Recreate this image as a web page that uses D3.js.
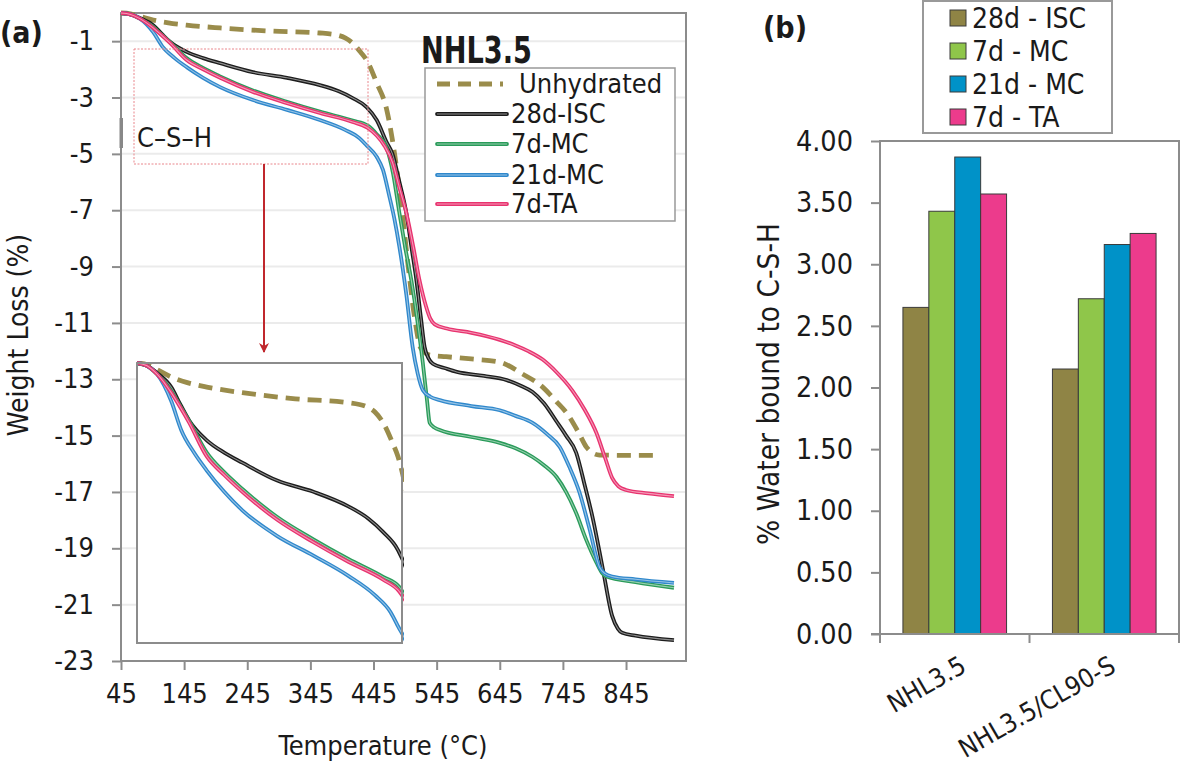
<!DOCTYPE html>
<html><head><meta charset="utf-8">
<script src="https://cdn.jsdelivr.net/npm/d3@7"></script>
<style>
body{margin:0;background:#fff;}
text{font-family:"DejaVu Sans Condensed","DejaVu Sans",sans-serif;font-stretch:condensed;fill:#1a1a1a;}
</style></head>
<body><svg id="c" width="1181" height="770"></svg>
<script>
// ---------- Panel (a) data: TGA curves (Temperature °C, Weight loss %) ----------
const unhydrated = [[45,0],[60,-0.03],[75,-0.12],[96,-0.25],[120,-0.35],[149,-0.43],[202,-0.53],[281,-0.64],[360,-0.71],[387,-0.78],[400,-0.88],[412,-1.07],[425,-1.4],[434,-1.67],[450,-2.48],[466,-3.44],[479,-5.1],[490,-7.0],[500,-9.0],[510,-10.8],[520,-11.9],[534,-12.14],[560,-12.2],[600,-12.28],[645,-12.39],[680,-12.8],[713,-13.28],[735,-13.8],[751,-14.2],[770,-14.9],[782,-15.4],[795,-15.65],[803,-15.69],[850,-15.7],[900,-15.7]];
const isc28 = [[45,0],[60,-0.05],[75,-0.18],[96,-0.43],[110,-0.75],[123,-1.03],[149,-1.38],[175,-1.6],[202,-1.78],[254,-2.1],[308,-2.3],[360,-2.56],[390,-2.78],[412,-3.02],[434,-3.34],[450,-3.8],[466,-4.6],[475,-5.0],[486,-6.0],[497,-7.1],[505,-8.3],[513,-9.5],[520,-10.8],[526,-11.86],[532,-12.25],[539,-12.45],[560,-12.62],[577,-12.74],[620,-12.88],[656,-13.03],[680,-13.25],[697,-13.45],[715,-13.85],[735,-14.5],[750,-15.0],[766,-15.6],[780,-16.8],[792,-17.9],[808,-19.7],[823,-21.4],[832,-21.85],[839,-22.0],[860,-22.1],[921,-22.26]];
const mc7 = [[45,0],[60,-0.05],[75,-0.2],[96,-0.5],[110,-0.78],[123,-1.04],[149,-1.6],[175,-1.95],[202,-2.25],[254,-2.75],[308,-3.15],[360,-3.5],[412,-3.82],[436,-4.0],[450,-4.3],[466,-4.8],[476,-5.7],[486,-7.1],[495,-8.3],[505,-9.5],[515,-11.0],[523,-12.4],[530,-13.8],[534,-14.55],[542,-14.72],[550,-14.8],[600,-15.05],[645,-15.26],[670,-15.45],[697,-15.76],[715,-16.05],[735,-16.47],[750,-17.0],[766,-17.75],[782,-18.7],[798,-19.5],[808,-19.9],[814,-20.0],[860,-20.2],[921,-20.4]];
const mc21 = [[45,0],[60,-0.05],[75,-0.2],[96,-0.68],[111,-1.2],[130,-1.6],[149,-1.92],[175,-2.3],[202,-2.63],[254,-3.09],[308,-3.44],[360,-3.8],[400,-4.15],[423,-4.45],[434,-4.7],[450,-5.1],[460,-5.57],[470,-6.5],[478,-7.3],[486,-8.3],[497,-10.0],[507,-11.86],[515,-12.8],[523,-13.38],[535,-13.62],[550,-13.74],[600,-13.95],[645,-14.1],[670,-14.3],[697,-14.55],[720,-14.95],[740,-15.4],[755,-16.1],[771,-17.0],[787,-18.3],[803,-19.67],[812,-19.9],[823,-20.0],[860,-20.1],[921,-20.23]];
const ta7 = [[45,0],[60,-0.05],[75,-0.2],[96,-0.53],[110,-0.8],[123,-1.07],[149,-1.67],[175,-2.0],[202,-2.3],[254,-2.8],[308,-3.2],[360,-3.55],[412,-3.87],[436,-4.08],[450,-4.35],[462,-4.7],[475,-5.3],[486,-6.2],[497,-7.1],[508,-8.3],[518,-9.5],[528,-10.4],[535,-10.85],[542,-11.05],[561,-11.2],[600,-11.35],[645,-11.6],[670,-11.8],[690,-12.0],[713,-12.3],[735,-12.75],[760,-13.4],[780,-14.1],[798,-14.9],[812,-15.8],[823,-16.5],[833,-16.8],[845,-16.93],[880,-17.05],[921,-17.15]];
const seriesNamesA = ["Unhydrated","28d-ISC","7d-MC","21d-MC","7d-TA"];
const seriesColorsA = ["#9a8c4b","#1c1c1c","#2a9b5a","#2f88cc","#e8336f"];
const xTicksA = [45,145,245,345,445,545,645,745,845];
const yTicksA = [-1,-3,-5,-7,-9,-11,-13,-15,-17,-19,-21,-23];

// ---------- Panel (b) data ----------
const categoriesB = ["NHL3.5","NHL3.5/CL90-S"];
const seriesNamesB = ["28d - ISC","7d - MC","21d - MC","7d - TA"];
const seriesColorsB = ["#8f8445","#8fc64a","#0092c8","#ec3b8c"];
const valuesB = [[2.65,2.15],[3.43,2.72],[3.87,3.16],[3.57,3.25]]; // per series, per category
const yTicksB = [0,0.5,1,1.5,2,2.5,3,3.5,4];

const svg = d3.select("#c");
svg.append("rect").attr("width",1181).attr("height",770).attr("fill","#fff");
const defs = svg.append("defs");
const AX = "#8c8c8c", GRID = "#ebebeb";

// ================= Panel (a) =================
const xA = d3.scaleLinear().domain([45,940]).range([121,686]);
const yA = d3.scaleLinear().domain([0,-23]).range([13,661]);
const gA = svg.append("g");
gA.selectAll(".gr").data(yTicksA).join("line")
  .attr("x1",121).attr("x2",686).attr("y1",d=>yA(d)).attr("y2",d=>yA(d))
  .attr("stroke",GRID).attr("stroke-width",2);
gA.append("rect").attr("x",121).attr("y",13).attr("width",565).attr("height",648)
  .attr("fill","none").attr("stroke",AX).attr("stroke-width",2);
const yAxA = d3.axisLeft(yA).tickValues(yTicksA).tickSize(9).tickPadding(18).tickFormat(d=>String(d));
const xAxA = d3.axisBottom(xA).tickValues(xTicksA).tickSize(9).tickPadding(14).tickFormat(d=>String(d));
const ya = gA.append("g").attr("transform","translate(121,0)").call(yAxA);
const xa = gA.append("g").attr("transform","translate(0,661)").call(xAxA);
[ya,xa].forEach(a=>{a.select(".domain").attr("stroke",AX).attr("stroke-width",2);
  a.selectAll(".tick line").attr("stroke",AX).attr("stroke-width",2);
  a.selectAll("text").style("font-size","27px").attr("fill","#1a1a1a");});
ya.select(".domain").attr("d","M0,13V661");
xa.select(".domain").attr("d","M121,0H686");
gA.append("rect").attr("x",119.5).attr("y",118).attr("width",3.5).attr("height",30).attr("fill","#888");

const dataA = [unhydrated,isc28,mc7,mc21,ta7];
function drawCurves(g, xs, ys){
  const line = d3.line().x(d=>xs(d[0])).y(d=>ys(d[1])).curve(d3.curveMonotoneX);
  g.append("path").datum(dataA[0]).attr("d",line).attr("fill","none")
    .attr("stroke",seriesColorsA[0]).attr("stroke-width",4.8).attr("stroke-dasharray","14,8");
  [1,2,3,4].forEach(i=>{
    g.append("path").datum(dataA[i]).attr("d",line).attr("fill","none")
      .attr("stroke",seriesColorsA[i]).attr("stroke-width",3.8);
    g.append("path").datum(dataA[i]).attr("d",line).attr("fill","none")
      .attr("stroke","#fff").attr("stroke-opacity",0.5).attr("stroke-width",1.1);
  });
}
drawCurves(gA.append("g"), xA, yA);

// C-S-H box
gA.append("rect").attr("x",134).attr("y",49).attr("width",234).attr("height",115)
  .attr("fill","none").attr("stroke","#e9868c").attr("stroke-width",1).attr("stroke-dasharray","2,1.5");
gA.append("text").attr("x",137).attr("y",147).text("C–S–H").style("font-size","27px");
defs.append("marker").attr("id","ah").attr("viewBox","0 0 10 10")
  .attr("refX",9).attr("refY",5).attr("markerWidth",5).attr("markerHeight",5).attr("orient","auto")
  .append("path").attr("d","M0,0L10,5L0,10L3,5Z").attr("fill","#c0272d");
gA.append("line").attr("x1",264).attr("y1",164).attr("x2",264).attr("y2",352)
  .attr("stroke","#c0272d").attr("stroke-width",2).attr("marker-end","url(#ah)");

// Inset (zoom of the C-S-H region)
const xI = d3.scaleLinear().domain([45,440]).range([137,402]);
const yI = d3.scaleLinear().domain([0,-5]).range([363,643]);
gA.append("rect").attr("x",137).attr("y",363).attr("width",265).attr("height",280).attr("fill","#fff");
defs.append("clipPath").attr("id","ci").append("rect")
  .attr("x",137).attr("y",361).attr("width",267).attr("height",282);
drawCurves(gA.append("g").attr("clip-path","url(#ci)"), xI, yI);
gA.append("rect").attr("x",137).attr("y",363).attr("width",265).attr("height",280)
  .attr("fill","none").attr("stroke","#8c8c8c").attr("stroke-width",2);

// Title and legend (a)
gA.append("text").attr("x",421).attr("y",63).text("NHL3.5")
  .attr("textLength",111).attr("lengthAdjust","spacingAndGlyphs")
  .style("font-weight","bold").style("font-size","38px");
const legA = gA.append("g");
legA.append("rect").attr("x",425).attr("y",68).attr("width",250).attr("height",153)
  .attr("fill","#fff").attr("stroke","#999").attr("stroke-width",1.5);
const legY = [84,114,144,175,204];
seriesNamesA.forEach((n,i)=>{
  const y = legY[i];
  if(i===0){
    legA.append("line").attr("x1",437).attr("x2",503).attr("y1",y).attr("y2",y)
      .attr("stroke",seriesColorsA[0]).attr("stroke-width",4.8).attr("stroke-dasharray","13,8");
    legA.append("text").attr("x",519).attr("y",y+9).text(n).style("font-size","27px");
  } else {
    legA.append("line").attr("x1",437).attr("x2",507).attr("y1",y).attr("y2",y)
      .attr("stroke",seriesColorsA[i]).attr("stroke-width",3.8).attr("stroke-linecap","round");
    legA.append("line").attr("x1",437).attr("x2",507).attr("y1",y).attr("y2",y)
      .attr("stroke","#fff").attr("stroke-opacity",0.5).attr("stroke-width",1.1);
    legA.append("text").attr("x",511).attr("y",y+9).text(n).style("font-size","27px");
  }
});
gA.append("text").attr("transform","translate(28,335) rotate(-90)").attr("text-anchor","middle")
  .text("Weight Loss (%)").style("font-size","28px");
gA.append("text").attr("x",383).attr("y",755).attr("text-anchor","middle")
  .text("Temperature (°C)").style("font-size","27px");
svg.append("text").attr("x",0).attr("y",43).text("(a)").style("font-weight","bold").style("font-size","30px");

// ================= Panel (b) =================
const xB = d3.scaleBand().domain(categoriesB).range([880,1179]).paddingInner(0).paddingOuter(0);
const xSB = d3.scaleBand().domain(seriesNamesB).range([0,xB.bandwidth()]).paddingInner(0).paddingOuter(0.885);
const yB = d3.scaleLinear().domain([0,4]).range([634,141]);
const gB = svg.append("g");
gB.append("rect").attr("x",880).attr("y",141).attr("width",299).attr("height",493)
  .attr("fill","none").attr("stroke",AX).attr("stroke-width",2);
seriesNamesB.forEach((s,si)=>{
  gB.selectAll(".b"+si).data(categoriesB).join("rect")
    .attr("x",c=>xB(c)+xSB(s)).attr("width",xSB.bandwidth())
    .attr("y",(c,ci)=>yB(valuesB[si][ci])).attr("height",(c,ci)=>yB(0)-yB(valuesB[si][ci]))
    .attr("fill",seriesColorsB[si]).attr("stroke","#3a3a3a").attr("stroke-width",1);
});
const yAxB = d3.axisLeft(yB).tickValues(yTicksB).tickSize(9).tickPadding(18).tickFormat(d3.format(".2f"));
const yb = gB.append("g").attr("transform","translate(880,0)").call(yAxB);
yb.select(".domain").attr("stroke",AX).attr("stroke-width",2).attr("d","M0,141V634");
yb.selectAll(".tick line").attr("stroke",AX).attr("stroke-width",2);
yb.selectAll("text").style("font-size","28.5px").attr("fill","#1a1a1a");
gB.append("line").attr("x1",871).attr("x2",1179).attr("y1",634).attr("y2",634).attr("stroke",AX).attr("stroke-width",2);
const bounds = categoriesB.map(c=>xB(c)).concat([xB(categoriesB[1])+xB.bandwidth()]);
gB.selectAll(".bt").data(bounds).join("line").attr("x1",d=>d).attr("x2",d=>d)
  .attr("y1",634).attr("y2",643).attr("stroke",AX).attr("stroke-width",2);
gB.selectAll(".bl").data(categoriesB).join("text")
  .attr("transform",c=>`translate(${xB(c)+xB.bandwidth()/2+4},${655}) rotate(-30)`)
  .attr("text-anchor","end").attr("dy","0.7em").text(c=>c).style("font-size","26px");
gB.append("text").attr("transform","translate(779,384) rotate(-90)").attr("text-anchor","middle")
  .text("% Water bound to C-S-H").style("font-size","29.5px");
const legB = gB.append("g");
legB.append("rect").attr("x",923).attr("y",1).attr("width",189).attr("height",132)
  .attr("fill","#fff").attr("stroke","#999").attr("stroke-width",2);
seriesNamesB.forEach((n,i)=>{
  const cy = 18 + i*33;
  legB.append("rect").attr("x",950).attr("y",cy-8).attr("width",16).attr("height",16)
    .attr("fill",seriesColorsB[i]).attr("stroke","#3a3a3a").attr("stroke-width",1);
  legB.append("text").attr("x",972).attr("y",cy+10).text(n).style("font-size","28px");
});
svg.append("text").attr("x",763).attr("y",38).text("(b)").style("font-weight","bold").style("font-size","30px");
</script></body></html>
